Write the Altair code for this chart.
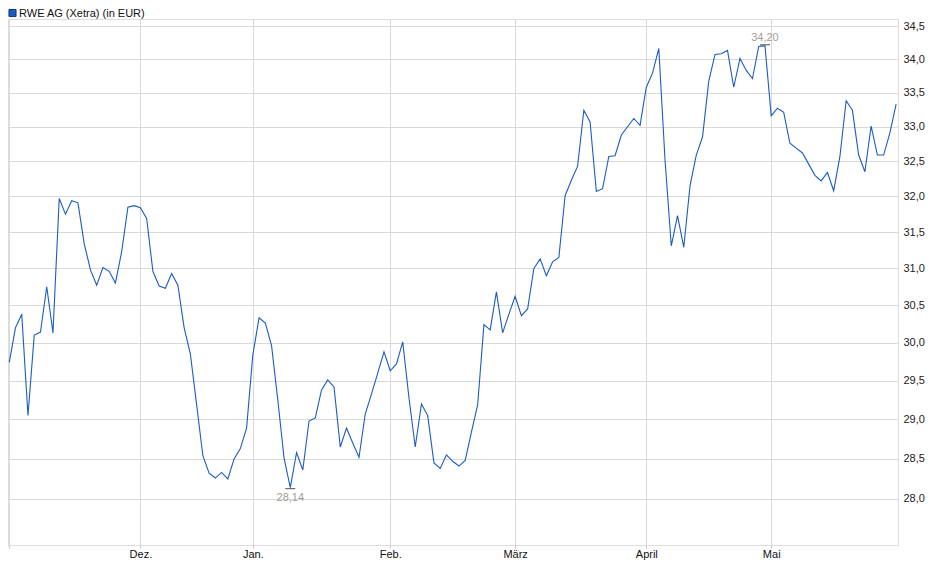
import altair as alt
import pandas as pd

# RWE AG (Xetra) daily closing prices, Nov 2024 - May 2025 (one value per trading day)
prices = [
    29.74, 30.20, 30.38, 29.05, 30.10, 30.14, 30.75, 30.13, 31.97, 31.75,
    31.94, 31.91, 31.34, 30.98, 30.77, 31.01, 30.96, 30.80, 31.23, 31.85,
    31.87, 31.84, 31.69, 30.96, 30.76, 30.73, 30.93, 30.77, 30.20, 29.85,
    29.19, 28.54, 28.32, 28.26, 28.33, 28.25, 28.50, 28.63, 28.89, 29.84,
    30.33, 30.26, 29.96, 29.25, 28.51, 28.14, 28.58, 28.36, 28.98, 29.02,
    29.38, 29.51, 29.42, 28.65, 28.89, 28.70, 28.52, 29.07, 29.33, 29.60,
    29.88, 29.63, 29.72, 30.01, 29.28, 28.65, 29.20, 29.05, 28.45, 28.38,
    28.55, 28.47, 28.41, 28.48, 28.84, 29.19, 30.24, 30.17, 30.68, 30.13,
    30.38, 30.62, 30.36, 30.45, 31.00, 31.13, 30.90, 31.09, 31.15, 32.01,
    32.23, 32.43, 33.24, 33.07, 32.07, 32.11, 32.57, 32.58, 32.88, 33.00,
    33.12, 33.02, 33.58, 33.79, 34.16, 32.52, 31.31, 31.73, 31.29, 32.15,
    32.59, 32.85, 33.67, 34.07, 34.08, 34.13, 33.58, 34.01, 33.83, 33.71,
    34.19, 34.20, 33.16, 33.27, 33.21, 32.76, 32.69, 32.62, 32.46, 32.30,
    32.22, 32.34, 32.08, 32.57, 33.38, 33.24, 32.59, 32.35, 33.01, 32.59,
    32.59, 32.91, 33.33,
]
day_index = list(range(len(prices)))

# first trading day of each month (index into prices) and its label
month_start = [0, 21, 39, 61, 81, 102, 122]
month_labels = ["", "Dez.", "Jan.", "Feb.", "März", "April", "Mai"]

y_ticks = [28.0, 28.5, 29.0, 29.5, 30.0, 30.5, 31.0, 31.5, 32.0, 32.5, 33.0, 33.5, 34.0, 34.5]

title_text = "RWE AG (Xetra) (in EUR)"

LINE = "#1c5bc2"
GRID = "#d9d9d9"
FONT = "Liberation Sans"

df = pd.DataFrame({"i": day_index, "v": prices})

i_min = prices.index(min(prices))
i_max = prices.index(max(prices))
def fmt(v):
    return f"{v:.2f}".replace(".", ",")
df_min = pd.DataFrame({"i": [i_min], "v": [prices[i_min]], "t": [fmt(prices[i_min])]})
df_max = pd.DataFrame({"i": [i_max], "v": [prices[i_max]], "t": [fmt(prices[i_max])]})

label_expr = "".join(
    f"datum.value=={m}?'{l}':" for m, l in zip(month_start, month_labels)
) + "''"

xs = alt.Scale(domain=[-0.2, 142.3], nice=False, zero=False)
ys = alt.Scale(type="log", domain=[27.437, 34.607], nice=False, zero=False)

x_enc = alt.X(
    "i:Q", scale=xs, title=None,
    axis=alt.Axis(
        values=month_start, labelExpr=label_expr, grid=True, gridColor=GRID,
        domain=False, ticks=True, tickSize=3, tickColor="#c4c4c4",
        labelPadding=0, labelFontSize=11, labelColor="#111", labelFont=FONT,
        labelFlush=False, labelOverlap=False,
    ),
)
y_enc = alt.Y(
    "v:Q", scale=ys, title=None,
    axis=alt.Axis(
        orient="right", values=y_ticks,
        labelExpr="replace(format(datum.value, '.1f'), '.', ',')",
        grid=True, gridColor=GRID, domain=False, ticks=False,
        labelPadding=5, labelFontSize=11, labelColor="#222", labelFont=FONT,
        labelFlush=False, labelOverlap=False,
    ),
)

line = alt.Chart(df).mark_line(color=LINE, strokeWidth=1.1).encode(x=x_enc, y=y_enc)

min_tick = alt.Chart(df_min).mark_tick(
    orient="horizontal", size=10, thickness=1, color="black", yOffset=1
).encode(x=alt.X("i:Q", scale=xs), y=alt.Y("v:Q", scale=ys))
min_text = alt.Chart(df_min).mark_text(
    baseline="top", dy=4, fontSize=11, font=FONT, color="#a39c95"
).encode(x=alt.X("i:Q", scale=xs), y=alt.Y("v:Q", scale=ys), text="t:N")

max_tick = alt.Chart(df_max).mark_tick(
    orient="horizontal", size=10, thickness=1, color="black", yOffset=-1
).encode(x=alt.X("i:Q", scale=xs), y=alt.Y("v:Q", scale=ys))
max_text = alt.Chart(df_max).mark_text(
    baseline="alphabetic", dy=-5, fontSize=11, font=FONT, color="#a39c95"
).encode(x=alt.X("i:Q", scale=xs), y=alt.Y("v:Q", scale=ys), text="t:N")

df_title = pd.DataFrame({"t": [title_text]})
legend_sq = alt.Chart(df_title).mark_square(
    size=50, fill=LINE, stroke="#0d3580", strokeWidth=1, opacity=1
).encode(x=alt.value(4.5), y=alt.value(-6))
title = alt.Chart(df_title).mark_text(
    align="left", baseline="alphabetic", fontSize=11, font=FONT, color="#111"
).encode(x=alt.value(11), y=alt.value(-2), text="t:N")

chart = alt.layer(line, min_tick, min_text, max_tick, max_text, legend_sq, title).properties(
    width=890, height=526,
    padding={"left": 0, "top": 11, "right": 34, "bottom": 25},
    autosize=alt.AutoSizeParams(type="none"),
).configure_view(
    stroke=GRID, strokeWidth=1, fill="white"
).configure(background="white")

chart.save("out.html", embed_options={"renderer": "svg", "actions": False})
